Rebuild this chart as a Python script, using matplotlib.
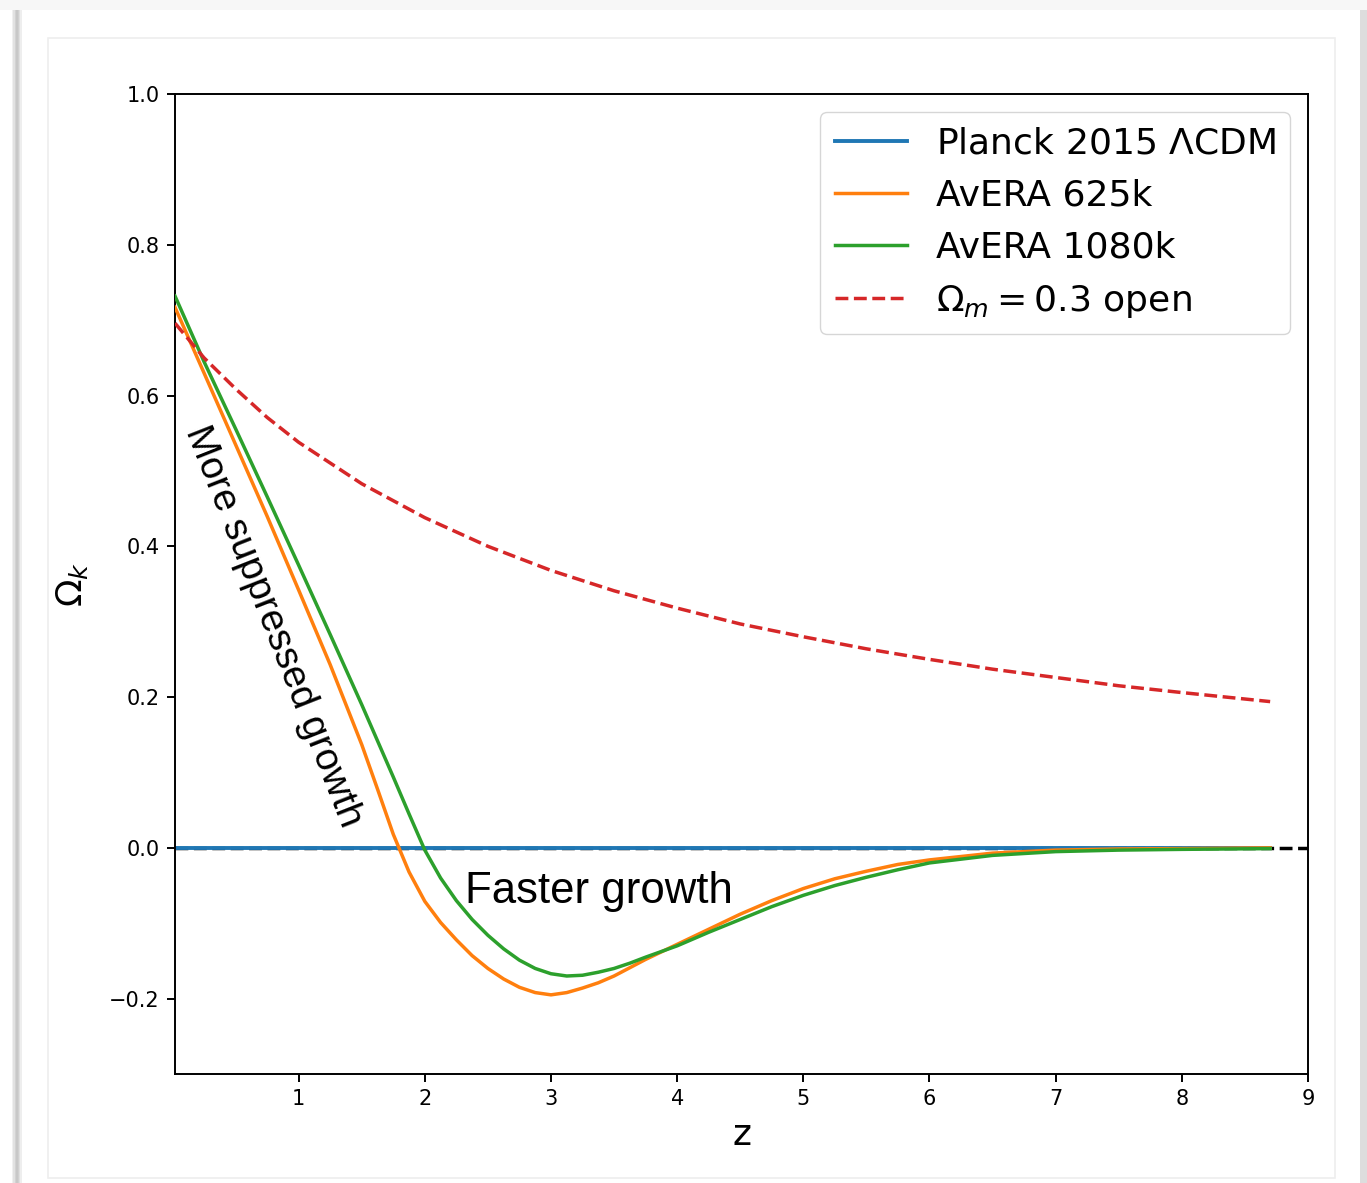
import matplotlib

matplotlib.use("Agg")

import matplotlib.pyplot as plt
from matplotlib.patches import Rectangle

# redshift grid of the AvERA curves
z_avera = [0.02, 0.25, 0.5, 0.75, 1.0, 1.25, 1.5, 1.625, 1.75, 1.875, 2.0,
           2.125, 2.25, 2.375, 2.5, 2.625, 2.75, 2.875, 3.0, 3.125, 3.25,
           3.375, 3.5, 3.625, 3.75, 4.0, 4.25, 4.5, 4.75, 5.0, 5.25, 5.5,
           5.75, 6.0, 6.5, 7.0, 7.5, 8.0, 8.7]
omega_k_625k = [0.717, 0.630, 0.535, 0.440, 0.342, 0.243, 0.137, 0.078, 0.018,
                -0.032, -0.071, -0.099, -0.122, -0.143, -0.160, -0.174, -0.185,
                -0.192, -0.195, -0.192, -0.186, -0.179, -0.170, -0.159, -0.148,
                -0.128, -0.108, -0.088, -0.070, -0.054, -0.041, -0.031, -0.022,
                -0.016, -0.007, -0.003, -0.0015, -0.001, 0.0]
omega_k_1080k = [0.732, 0.645, 0.556, 0.466, 0.375, 0.283, 0.190, 0.142, 0.094,
                 0.045, -0.003, -0.040, -0.070, -0.095, -0.116, -0.134, -0.149,
                 -0.160, -0.167, -0.170, -0.169, -0.165, -0.160, -0.153, -0.145,
                 -0.130, -0.112, -0.095, -0.078, -0.063, -0.050, -0.039, -0.029,
                 -0.020, -0.010, -0.005, -0.003, -0.002, -0.001]

z_open = [0.02, 0.25, 0.5, 0.75, 1.0, 1.5, 2.0, 2.5, 3.0, 3.5, 4.0, 4.5, 5.0,
          5.5, 6.0, 6.5, 7.0, 7.5, 8.0, 8.7]
omega_k_open = [0.696, 0.650, 0.609, 0.571, 0.538, 0.483, 0.438, 0.400, 0.368,
                0.341, 0.318, 0.297, 0.280, 0.264, 0.250, 0.237, 0.226, 0.215,
                0.206, 0.194]

z_planck = [0.02, 8.7]
omega_k_planck = [0.0, 0.0]

x_ticks = [1, 2, 3, 4, 5, 6, 7, 8, 9]
y_ticks = [-0.2, 0.0, 0.2, 0.4, 0.6, 0.8, 1.0]

W, H = 1367, 1183
fig = plt.figure(figsize=(W / 100, H / 100), dpi=100)


def px_rect(x0, y0, x1, y1, **kw):
    # rectangle given in image pixel coordinates (origin top left)
    r = Rectangle((x0 / W, 1 - y1 / H), (x1 - x0) / W, (y1 - y0) / H,
                  transform=fig.transFigure, **kw)
    fig.add_artist(r)


# screenshot frame: soft shadow on the left, grey strip on the right
px_rect(0, 0, W, 10, facecolor="#f7f7f7", edgecolor="none")
for i, c in enumerate(["#f0f0f0", "#e2e2e2", "#d2d2d2", "#c8c8c8", "#d0d0d0",
                       "#dfdfdf", "#eeeeee"]):
    px_rect(12 + i * 1.4, 10, 13.4 + i * 1.4, H, facecolor=c, edgecolor="none")
px_rect(1360, 10, W, H, facecolor="#dddddd", edgecolor="none")
px_rect(48, 38, 1335, 1178, facecolor="none", edgecolor="#eeeeee", linewidth=1.2)

ax = fig.add_axes([175 / W, 1 - 1074 / H, (1308 - 175) / W, (1074 - 94) / H])

lw = 2.5
ax.axhline(0, color="k", linestyle="--", linewidth=lw, zorder=1)
ax.plot(z_planck, omega_k_planck, color="#1f77b4", linewidth=lw + 0.3,
        label="Planck 2015 $\\Lambda$CDM", zorder=2)
ax.plot(z_avera, omega_k_625k, color="#ff7f0e", linewidth=lw,
        label="AvERA 625k", zorder=3)
ax.plot(z_avera, omega_k_1080k, color="#2ca02c", linewidth=lw,
        label="AvERA 1080k", zorder=3)
ax.plot(z_open, omega_k_open, color="#d62728", linestyle="--", linewidth=lw,
        label="$\\Omega_m = 0.3$ open", zorder=3)

ax.set_xlim(0.02, 9)
ax.set_ylim(-0.3, 1.0)
ax.set_xticks(x_ticks)
ax.set_yticks(y_ticks)
ax.tick_params(axis="both", labelsize=15, length=6, width=1.4, pad=5)
for s in ax.spines.values():
    s.set_linewidth(1.4)

ax.set_xlabel("z", fontsize=26, labelpad=6)
ax.set_ylabel("$\\Omega_k$", fontsize=26, labelpad=14)

ax.legend(loc="upper right", fontsize=26, borderaxespad=0.5)

ax.text(0.80, 0.293, "More suppressed growth", rotation=-68.5,
        rotation_mode="anchor", ha="center", va="center", fontsize=28,
        family="Liberation Sans")
ax.text(2.316, -0.073, "Faster growth", ha="left", va="baseline",
        fontsize=31.5, family="Liberation Sans")

fig.savefig("out.png", dpi=100)
